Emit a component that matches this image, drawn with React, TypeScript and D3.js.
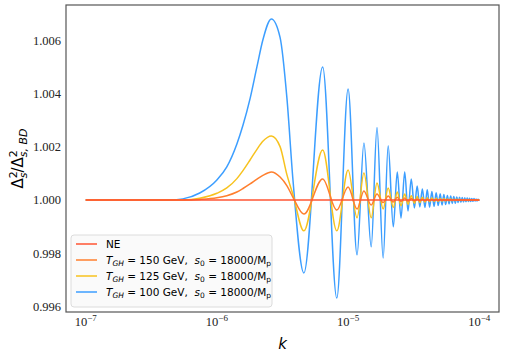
import React from "react";
import * as d3 from "d3";

// k values (units of 1e-6) shared by every curve: rise, then peaks / troughs
const kGrid = [
  0.1, 0.3, 0.44, 0.55, 0.74, 1.0, 1.19, 1.42, 1.58, 1.79, 2.02, 2.24, 2.6, 3.03, 3.42, 3.8, 4.6,
  6.4, 8.2, 10.0, 11.7, 13.2, 15.0, 16.6, 18.5, 20.2, 22.1, 23.7, 25.3, 27.0, 28.6, 30.3, 32.0,
  33.6, 35.2, 36.8, 38.5, 40.1, 41.8, 43.5, 45.2, 46.9, 48.6, 50.3, 52.0, 53.7, 55.4, 57.1, 58.8,
  60.5, 62.2, 63.9, 65.6, 67.3, 69.0, 70.7, 72.4, 74.1, 75.8, 77.5, 79.2, 80.9, 82.6, 84.3, 86.0,
  87.7, 89.4, 91.1, 92.8, 94.5, 96.2, 97.9, 100,
];

// deviation from 1, in units of 1e-4
const t100 = [
  0, 0, 0, 0.4, 2.6, 7.5, 12.4, 21, 28, 38, 50, 60, 67.9, 61, 38, 7.5, -27.4,
  49.9, -36.8, 41.6, -20.6, 21.4, -17.6, 27.2, -21.8, 20.3, -10.1, 10.5, -6.8, 10.5, -4.1, 7.9, -3.0,
  5.2, -2.6, 4.1, -2.8, 3.8, -2.7, 3.2, -2.4, 2.7, -2.1, 2.3, -1.9, 2.0, -1.7, 1.7, -1.5,
  1.5, -1.3, 1.3, -1.2, 1.1, -1.0, 1.0, -0.9, 0.9, -0.8, 0.8, -0.7, 0.7, -0.6, 0.6, -0.6,
  0.5, -0.5, 0.5, -0.4, 0.4, -0.4, 0.3, -0.3,
];
const t125 = [
  0, 0, 0, 0, 0.6, 2.5, 4.5, 8, 11, 15, 19, 22, 24, 20, 9.4, 2, -11.6,
  18.7, -11.6, 11.2, -6.7, 10.1, -6.7, 6.4, -3.4, 4.5, -2.8, 3.0, -2.2, 2.2, -1.6, 1.6, -1.2,
  1.3, -1.0, 1.0, -0.8, 0.8, -0.6, 0.7, -0.5, 0.6, -0.5, 0.5, -0.4, 0.5, -0.4, 0.4, -0.3,
  0.4, -0.3, 0.3, -0.3, 0.3, -0.2, 0.3, -0.2, 0.2, -0.2, 0.2, -0.2, 0.2, -0.2, 0.2, -0.1,
  0.1, -0.1, 0.1, -0.1, 0.1, -0.1, 0.1, 0,
];
const t150 = [
  0, 0, 0, 0, 0.2, 0.8, 1.6, 3, 4.3, 6, 7.8, 9.2, 10.5, 8.6, 5.3, 1, -5.3,
  7.9, -3.8, 4.9, -3.4, 3.4, -1.9, 2.2, -1.0, 1.5, -0.8, 1.0, -0.6, 0.7, -0.5, 0.5, -0.4,
  0.4, -0.3, 0.3, -0.3, 0.3, -0.2, 0.2, -0.2, 0.2, -0.2, 0.2, -0.1, 0.1, -0.1, 0.1, -0.1,
  0.1, -0.1, 0.1, -0.1, 0.1, 0, 0, 0, 0, 0, 0, 0, 0, 0, 0, 0,
  0, 0, 0, 0, 0, 0, 0, 0,
];
const neK = [0.1, 100];
const neV = [0, 0];

const yTicks = [0.996, 0.998, 1.0, 1.002, 1.004, 1.006];
const xTicks = [1e-7, 1e-6, 1e-5, 1e-4];

const colors = { ne: "#ff5533", t150: "#ff7f2e", t125: "#f7c21e", t100: "#3c9eff" };

const W = 506, H = 356;
const left = 66, right = 499, top = 5, bottom = 312;

export default function App() {
  const toPts = (ks: number[], vs: number[]) => ks.map((k, i) => [k * 1e-6, 1 + vs[i] * 1e-4] as [number, number]);
  const series = [
    { key: "t100", pts: toPts(kGrid, t100), color: colors.t100 },
    { key: "t125", pts: toPts(kGrid, t125), color: colors.t125 },
    { key: "t150", pts: toPts(kGrid, t150), color: colors.t150 },
    { key: "ne", pts: toPts(neK, neV), color: colors.ne },
  ];

  const all = series.flatMap((s) => s.pts.map((p) => p[1]));
  const [ymin, ymax] = d3.extent(all) as [number, number];
  const pad = (ymax - ymin) * 0.05;
  const y = d3.scaleLinear().domain([ymin - pad, ymax + pad]).range([bottom, top]);
  const lx0 = Math.log10(1e-7), lx1 = Math.log10(1e-4), lpad = (lx1 - lx0) * 0.05;
  const x = d3.scaleLog().domain([10 ** (lx0 - lpad), 10 ** (lx1 + lpad)]).range([left, right]);

  const line = d3
    .line<[number, number]>()
    .x((d) => x(d[0]))
    .y((d) => y(d[1]))
    .curve(d3.curveMonotoneX);

  const legendItems = [
    { color: colors.ne, label: null as null | string },
    { color: colors.t150, label: "150" },
    { color: colors.t125, label: "125" },
    { color: colors.t100, label: "100" },
  ];

  return (
    <svg width={W} height={H} style={{ position: "absolute", left: 0, top: 0, background: "#fff" }}>
      <defs>
        <clipPath id="plot">
          <rect x={left} y={top} width={right - left} height={bottom - top} />
        </clipPath>
      </defs>
      <g clipPath="url(#plot)" fill="none">
        {series.map((s) => (
          <path key={s.key} d={line(s.pts) || ""} stroke={s.color} strokeWidth={1.5} />
        ))}
      </g>
      <rect x={left} y={top} width={right - left} height={bottom - top} fill="none" stroke="#555" strokeWidth={1.2} />

      {yTicks.map((t) => (
        <text key={t} x={left - 5} y={y(t) + 4.5} textAnchor="end" fontFamily="Liberation Serif" fontSize={12.5} fill="#222">
          {t.toFixed(3)}
        </text>
      ))}
      {xTicks.map((t) => (
        <text key={t} x={x(t)} y={326} textAnchor="middle" fontFamily="Liberation Serif" fontSize={12.5} fill="#222">
          10<tspan fontSize={9} dy={-5}>{"\u2212" + Math.round(-Math.log10(t))}</tspan>
        </text>
      ))}

      <text x={(left + right) / 2} y={349} textAnchor="middle" fontFamily="DejaVu Sans" fontStyle="italic" fontSize={15}>
        k
      </text>
      <text
        transform={`translate(23, ${(top + bottom) / 2}) rotate(-90)`}
        textAnchor="middle"
        fontFamily="DejaVu Sans"
        fontSize={15}
      >
        Δ<tspan fontSize={11} dy={-6}>2</tspan>
        <tspan fontSize={11} dx={-7} dy={10} fontStyle="italic">s</tspan>
        <tspan dy={-4}>/Δ</tspan>
        <tspan fontSize={11} dy={-6}>2</tspan>
        <tspan fontSize={11} dx={-7} dy={10} fontStyle="italic">s, BD</tspan>
      </text>

      <g>
        <rect x={71} y={235} width={201} height={72} rx={3} fill="#fafafa" stroke="#dcdcdc" strokeWidth={1} />
        {legendItems.map((it, i) => {
          const ly = 244 + i * 16;
          return (
            <g key={i}>
              <line x1={76} x2={97} y1={ly} y2={ly} stroke={it.color} strokeWidth={1.5} />
              {it.label === null ? (
                <text x={106} y={ly + 4} fontFamily="DejaVu Sans" fontSize={10.5}>NE</text>
              ) : (
                <text x={106} y={ly + 4} fontFamily="DejaVu Sans" fontSize={10.5} style={{ whiteSpace: "pre" }}>
                  <tspan fontStyle="italic">T</tspan>
                  <tspan fontSize={7.5} dy={2} fontStyle="italic">GH</tspan>
                  <tspan dy={-2}>{` = ${it.label} GeV,  `}</tspan>
                  <tspan fontStyle="italic">s</tspan>
                  <tspan fontSize={7.5} dy={2}>0</tspan>
                  <tspan dy={-2}>{" = 18000/M"}</tspan>
                  <tspan fontSize={7.5} dy={2}>p</tspan>
                </text>
              )}
            </g>
          );
        })}
      </g>
    </svg>
  );
}
